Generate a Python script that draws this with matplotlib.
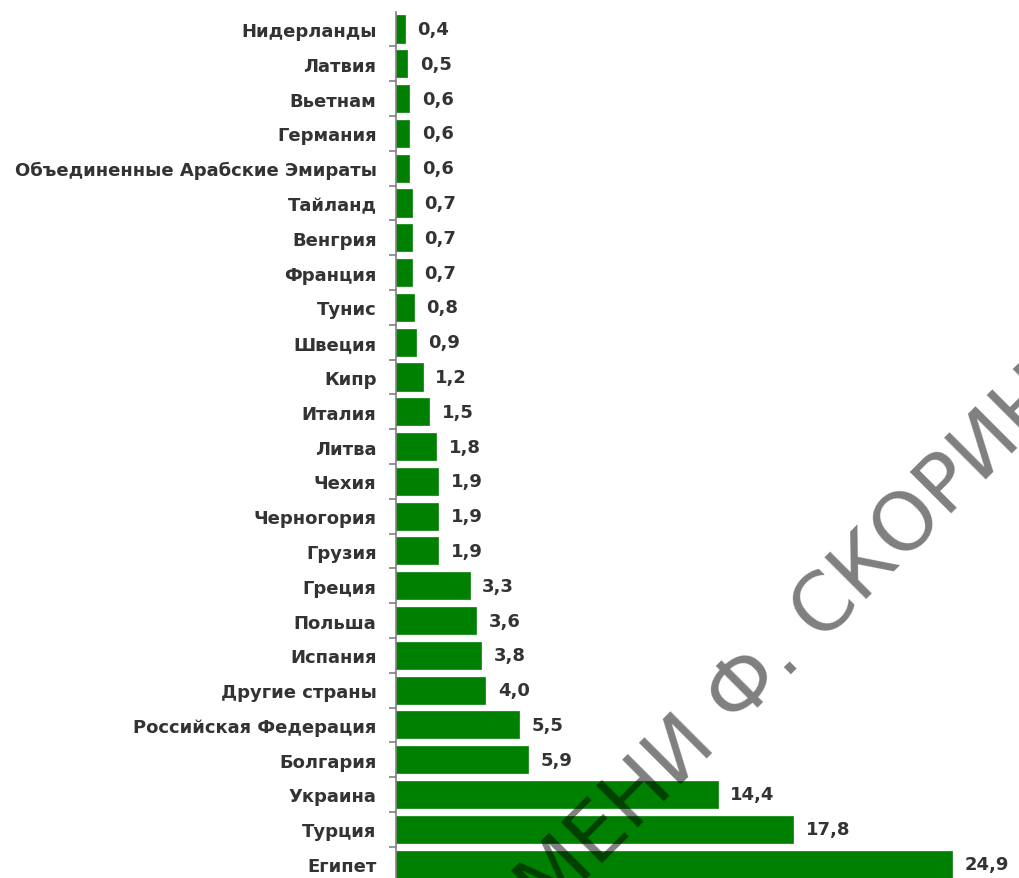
import matplotlib
matplotlib.use("Agg")
import matplotlib.pyplot as plt
from matplotlib.ticker import FixedLocator

countries = [
    "Нидерланды", "Латвия", "Вьетнам", "Германия",
    "Объединенные Арабские Эмираты", "Тайланд", "Венгрия", "Франция",
    "Тунис", "Швеция", "Кипр", "Италия", "Литва", "Чехия", "Черногория",
    "Грузия", "Греция", "Польша", "Испания", "Другие страны",
    "Российская Федерация", "Болгария", "Украина", "Турция", "Египет",
]
values = [0.4, 0.5, 0.6, 0.6, 0.6, 0.7, 0.7, 0.7, 0.8, 0.9, 1.2, 1.5, 1.8,
          1.9, 1.9, 1.9, 3.3, 3.6, 3.8, 4.0, 5.5, 5.9, 14.4, 17.8, 24.9]
value_labels = [f"{v:.1f}".replace(".", ",") for v in values]
watermark = "ИМЕНИ Ф. СКОРИНЫ"

W, H = 1019, 879
fig = plt.figure(figsize=(W / 100, H / 100), dpi=100)
left_px, top_px = 396, 12.6
ax = fig.add_axes([left_px / W, 0, 1 - left_px / W, (H - top_px) / H])

n = len(countries)
ypos = [n - 1 - i for i in range(n)]
ax.barh(ypos, values, height=0.78, color="#008000", edgecolor="#1a8a1a", linewidth=0.6)

ax.set_xlim(0, (W - left_px) / 22.33)
ax.set_ylim(-0.40, n - 0.5)

for spine in ["top", "right", "bottom"]:
    ax.spines[spine].set_visible(False)
ax.spines["left"].set_color("#808080")
ax.spines["left"].set_linewidth(1.2)
ax.set_xticks([])
ax.set_yticks(ypos)
ax.set_yticklabels(countries, fontsize=13, family="DejaVu Sans",
                   fontweight="bold", color="#333333")
ax.tick_params(axis="y", which="major", length=0, pad=14)
ax.yaxis.set_minor_locator(FixedLocator([k + 0.5 for k in range(-1, n - 1)]))
ax.tick_params(axis="y", which="minor", length=5, color="#808080", width=1.2)

for y, v, lab in zip(ypos, values, value_labels):
    ax.annotate(lab, (v, y), xytext=(9, 0), textcoords="offset points",
                ha="left", va="center", fontsize=13, family="DejaVu Sans",
                fontweight="bold", color="#333333")

fig.text(795 / W, 1 - 639 / H, watermark, rotation=45, rotation_mode="anchor",
         ha="center", va="center", fontsize=58, family="DejaVu Sans",
         fontweight="normal", color="black", alpha=0.5)

fig.savefig("out.png", dpi=100)
